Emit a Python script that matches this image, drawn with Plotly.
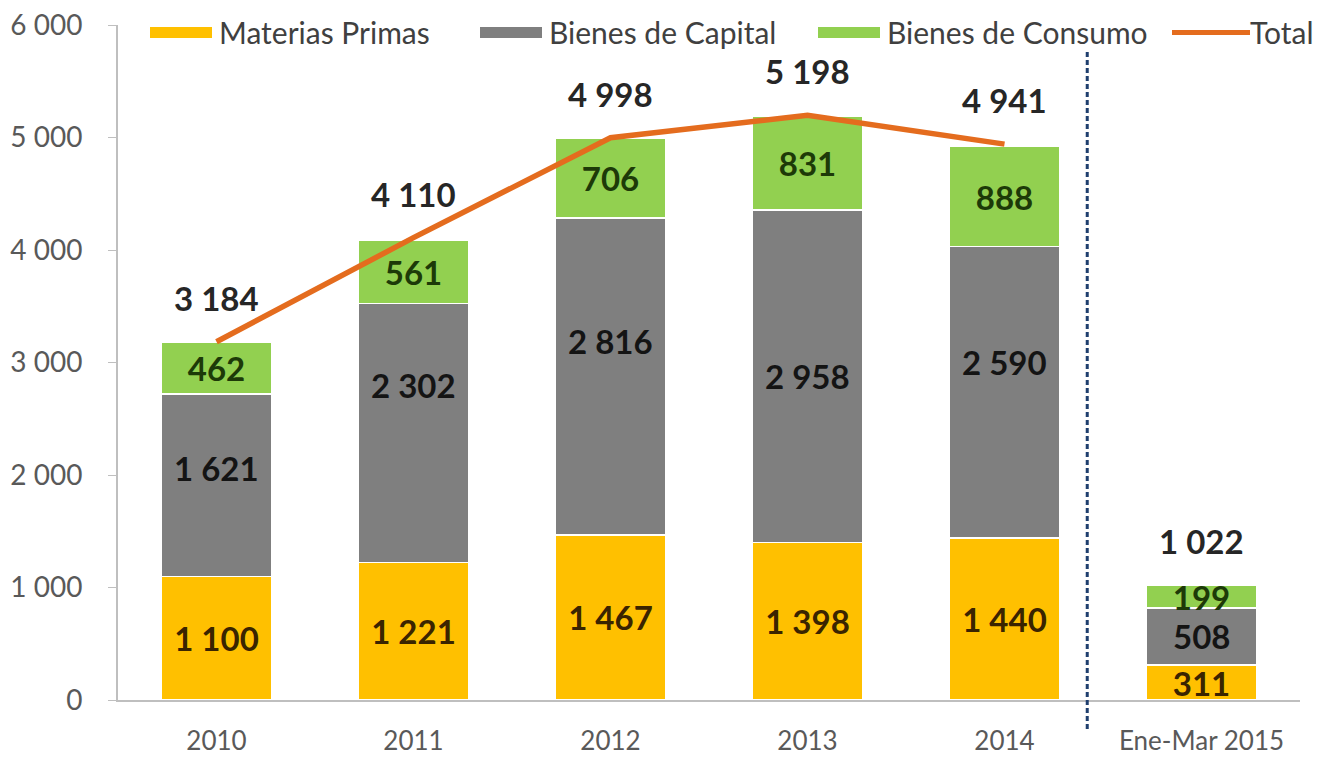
import plotly.graph_objects as go

# ---- data ----
categories = ["2010", "2011", "2012", "2013", "2014", "Ene-Mar 2015"]
materias_primas = [1100, 1221, 1467, 1398, 1440, 311]
bienes_capital = [1621, 2302, 2816, 2958, 2590, 508]
bienes_consumo = [462, 561, 706, 831, 888, 199]
totals = [3184, 4110, 4998, 5198, 4941, 1022]
line_categories = ["2010", "2011", "2012", "2013", "2014"]
line_totals = [3184, 4110, 4998, 5198, 4941]
y_ticks = [0, 1000, 2000, 3000, 4000, 5000, 6000]

# label placement tweaks (pixels, positive = up) for the capital-goods labels
capital_label_lift = [17, 48, 36, 0, 30, 0]

YELLOW, GRAY, GREEN = "#FFC000", "#7F7F7F", "#92D050"
LINE_COLOR = "#E46C1E"
FONT = "Lato"
LABEL_SIZE = 33


def fmt(v):
    return f"{v:,}".replace(",", " ")


fig = go.Figure()
fig.add_trace(go.Bar(
    x=categories, y=materias_primas, name="Materias Primas",
    marker=dict(color=YELLOW, line=dict(color="white", width=1.5)),
    text=[fmt(v) for v in materias_primas], textposition="inside",
    insidetextanchor="middle", textangle=0, constraintext="none",
    textfont=dict(family=FONT, size=LABEL_SIZE, color="#3a2400", weight="bold"),
    hoverinfo="skip",
))
fig.add_trace(go.Bar(
    x=categories, y=bienes_capital, name="Bienes de Capital",
    marker=dict(color=GRAY, line=dict(color="white", width=1.5)),
    hoverinfo="skip",
))
fig.add_trace(go.Bar(
    x=categories, y=bienes_consumo, name="Bienes de Consumo",
    marker=dict(color=GREEN, line=dict(color="white", width=1.5)),
    text=[fmt(v) for v in bienes_consumo], textposition="inside",
    insidetextanchor="middle", textangle=0, constraintext="none",
    textfont=dict(family=FONT, size=LABEL_SIZE, color="#1d3a08", weight="bold"),
    hoverinfo="skip",
))
fig.add_trace(go.Scatter(
    x=line_categories, y=line_totals, mode="lines", name="Total",
    line=dict(color=LINE_COLOR, width=5.5),
))

# capital-goods labels (segment centre, nudged like the original)
for i, (mp, bc) in enumerate(zip(materias_primas, bienes_capital)):
    fig.add_annotation(x=i, xref="x", y=mp + bc / 2, yref="y", text=fmt(bc),
                       showarrow=False, yshift=capital_label_lift[i], yanchor="middle",
                       font=dict(family=FONT, size=LABEL_SIZE, color="#141414", weight="bold"))

# total labels above bars
for i, t in enumerate(totals):
    fig.add_annotation(x=i, xref="x", y=t, yref="y", text=fmt(t), showarrow=False,
                       yshift=44, yanchor="middle",
                       font=dict(family=FONT, size=LABEL_SIZE, color="#262626", weight="bold"))

# plot area in pixels
L, R, T, B = 118, 33, 25, 57
W = 1333 - L - R
PT, PB = T, 757 - B


def px_x(p):
    return (p - L) / W


def px_y(p):
    return (PB - p) / (PB - PT)


# dashed separator
fig.add_shape(type="line", xref="x", yref="paper", x0=4.42, x1=4.42,
              y0=px_y(729), y1=px_y(52),
              line=dict(color="#1F3F6E", width=3, dash="5px,3px"))

# legend drawn as swatches + labels
legend_items = [
    ("Materias Primas", YELLOW, "bar", 150),
    ("Bienes de Capital", GRAY, "bar", 480),
    ("Bienes de Consumo", GREEN, "bar", 818),
    ("Total", LINE_COLOR, "line", 1172),
]
for name, color, kind, x0 in legend_items:
    if kind == "bar":
        fig.add_shape(type="rect", xref="paper", yref="paper",
                      x0=px_x(x0), x1=px_x(x0 + 62), y0=px_y(38), y1=px_y(27),
                      fillcolor=color, line=dict(width=0), layer="above")
        tx = x0 + 67
    else:
        fig.add_shape(type="line", xref="paper", yref="paper",
                      x0=px_x(x0), x1=px_x(x0 + 78), y0=px_y(32.5), y1=px_y(32.5),
                      line=dict(color=color, width=5), layer="above")
        tx = x0 + 76
    fig.add_annotation(xref="paper", yref="paper", x=px_x(tx), y=px_y(32),
                       text=name, showarrow=False, xanchor="left", yanchor="middle",
                       font=dict(family=FONT, size=30, color="#404040"))

fig.update_layout(
    barmode="stack", bargap=0.44,
    width=1333, height=757,
    margin=dict(l=L, r=R, t=T, b=B, pad=0, autoexpand=False),
    paper_bgcolor="white", plot_bgcolor="white",
    font=dict(family=FONT, color="#595959"),
    showlegend=False,
)
fig.update_xaxes(type="category", categoryorder="array", categoryarray=categories,
                 range=[-0.5, len(categories) - 0.5], automargin=False,
                 showgrid=False, showline=True, linecolor="#BFBFBF", linewidth=2,
                 ticks="", tickfont=dict(family=FONT, size=26, color="#595959"),
                 ticklabelstandoff=17)
fig.update_yaxes(range=[0, 6000], tickvals=y_ticks, ticktext=[fmt(v) for v in y_ticks],
                 automargin=False,
                 showgrid=False, zeroline=False, showline=True, linecolor="#BFBFBF",
                 linewidth=2, ticks="outside", ticklen=8, tickcolor="#BFBFBF",
                 tickfont=dict(family=FONT, size=28, color="#595959"),
                 ticklabelstandoff=20)

fig.write_html("out.html", config={"displayModeBar": False},
               post_script="document.body.style.margin='0px';document.body.style.overflow='hidden';")
